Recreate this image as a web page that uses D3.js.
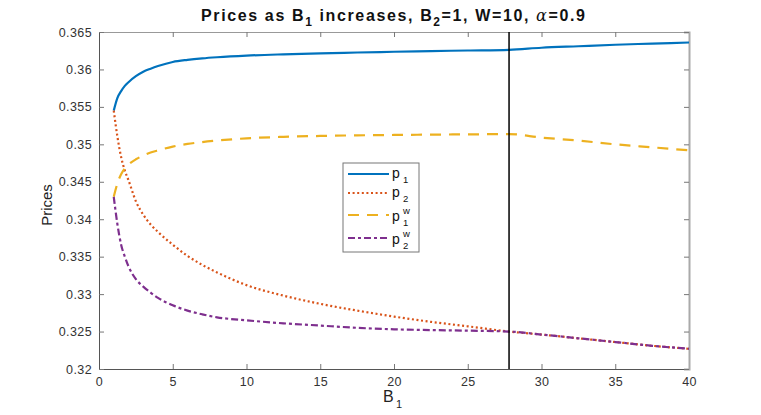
<!DOCTYPE html>
<html>
<head>
<meta charset="utf-8">
<script src="https://cdn.jsdelivr.net/npm/d3@7"></script>
<style>
  body { margin: 0; background: #fff; }
  text { font-family: "Liberation Sans", Arial, sans-serif; }
</style>
</head>
<body>
<svg width="761" height="415"></svg>
<script>
// values
var b1 = [1, 1.25, 1.5, 1.75, 2, 2.5, 3, 3.5, 4, 5, 6, 7, 8, 10, 12.5, 15, 17.5, 20, 22.5, 25, 27.8, 30, 32.5, 35, 37.5, 40];
var p1 = [0.3545, 0.3562, 0.3571, 0.3578, 0.3583, 0.3591, 0.3597, 0.3601, 0.36045, 0.3610, 0.36128, 0.36148, 0.36163, 0.36185, 0.36202, 0.36215, 0.36226, 0.36236, 0.36245, 0.36253, 0.36262, 0.3629, 0.3631, 0.3633, 0.36345, 0.3636];
var p2 = [0.3545, 0.3510, 0.3483, 0.3465, 0.3452, 0.3424, 0.3406, 0.3393, 0.3383, 0.3366, 0.3351, 0.3339, 0.3329, 0.3312, 0.3298, 0.3287, 0.3278, 0.3270, 0.3263, 0.3257, 0.3250, 0.3246, 0.3241, 0.3236, 0.3231, 0.3227];
var p1w = [0.3430, 0.3448, 0.3460, 0.3468, 0.3473, 0.3480, 0.3485, 0.3489, 0.3492, 0.3497, 0.35005, 0.3503, 0.3505, 0.3508, 0.3510, 0.35112, 0.3512, 0.35125, 0.3513, 0.35133, 0.35137, 0.3509, 0.3505, 0.3500, 0.3496, 0.3492];
var p2w = [0.3430, 0.3393, 0.3366, 0.3350, 0.3337, 0.3320, 0.3310, 0.3302, 0.3295, 0.3285, 0.3278, 0.3273, 0.3269, 0.3265, 0.3261, 0.3258, 0.3255, 0.3253, 0.3252, 0.32512, 0.3250, 0.3246, 0.3241, 0.3236, 0.3231, 0.3227];
var cutoff = 27.8;
var xTicks = [0, 5, 10, 15, 20, 25, 30, 35, 40];
var yTicks = [0.32, 0.325, 0.33, 0.335, 0.34, 0.345, 0.35, 0.355, 0.36, 0.365];

const svg = d3.select('svg');
const x = d3.scaleLinear().domain([0, 40]).range([99, 689]);
const y = d3.scaleLinear().domain([0.32, 0.365]).range([369, 32]);
const fmt = d => String(+d.toFixed(3));

// axes, MATLAB style: ticks pointing in, box on
svg.append('g').attr('transform', 'translate(0,369)')
  .call(d3.axisBottom(x).tickValues(xTicks).tickSize(-5).tickPadding(8).tickFormat(fmt))
  .call(g => g.select('.domain').attr('stroke', '#555'));
svg.append('g').attr('transform', 'translate(0,32)')
  .call(d3.axisTop(x).tickValues(xTicks).tickSize(-5).tickFormat(''))
  .call(g => g.select('.domain').attr('stroke', '#999'));
svg.append('g').attr('transform', 'translate(99,0)')
  .call(d3.axisLeft(y).tickValues(yTicks).tickSize(-5).tickPadding(7).tickFormat(fmt))
  .call(g => g.select('.domain').attr('stroke', '#555'));
svg.append('g').attr('transform', 'translate(689,0)')
  .call(d3.axisRight(y).tickValues(yTicks).tickSize(-5).tickFormat(''))
  .call(g => g.select('.domain').attr('stroke', '#aaa').attr('stroke-width', 2));
svg.selectAll('.tick line').attr('stroke', '#777');
svg.selectAll('.tick text').attr('font-size', 12.5).attr('letter-spacing', 0.4).attr('fill', '#333')
  .attr('font-family', '"Liberation Sans", Arial, sans-serif');

// series
var series = [
  { vals: p1, color: '#0072BD', dash: null },
  { vals: p2, color: '#D95319', dash: '2,2.6' },
  { vals: p1w, color: '#EDB120', dash: '11,8' },
  { vals: p2w, color: '#7E2F8E', dash: '7,3,3,3' }
];
const line = d3.line()
  .x((d, i) => x(b1[i]))
  .y(d => y(d))
  .curve(d3.curveMonotoneX);

svg.append('g').selectAll('path')
  .data(series)
  .join('path')
  .attr('fill', 'none')
  .attr('stroke', d => d.color)
  .attr('stroke-width', 2.2)
  .attr('stroke-dasharray', d => d.dash)
  .attr('d', d => line(d.vals));

svg.append('line')
  .attr('x1', x(cutoff)).attr('x2', x(cutoff))
  .attr('y1', y(0.365)).attr('y2', y(0.32))
  .attr('stroke', '#000').attr('stroke-width', 1.5);

// title
var title = svg.append('text')
  .attr('x', 201).attr('y', 21)
  .attr('textLength', 384).attr('lengthAdjust', 'spacing')
  .attr('font-size', 16).attr('font-weight', 'bold').attr('fill', '#111');
title.append('tspan').text('Prices as B');
title.append('tspan').attr('dy', 5).attr('font-size', 12).text('1');
title.append('tspan').attr('dy', -5).text(' increases, B');
title.append('tspan').attr('dy', 5).attr('font-size', 12).text('2');
title.append('tspan').attr('dy', -5).text('=1, W=10, ');
title.append('tspan').attr('font-family', '"DejaVu Serif", serif').attr('font-style', 'italic')
  .attr('font-weight', 'normal').text('α');
title.append('tspan').text('=0.9');

// axis labels
svg.append('text')
  .attr('transform', 'translate(52,205) rotate(-90)')
  .attr('text-anchor', 'middle')
  .attr('font-size', 15).attr('fill', '#222')
  .text('Prices');

svg.append('text')
  .attr('x', 383).attr('y', 402)
  .attr('font-size', 16).attr('fill', '#222')
  .text('B');
svg.append('text')
  .attr('x', 396).attr('y', 408)
  .attr('font-size', 11).attr('fill', '#222')
  .text('1');

// legend
var legend = svg.append('g');
legend.append('rect')
  .attr('x', 343).attr('y', 163).attr('width', 76).attr('height', 89)
  .attr('fill', '#fff').attr('stroke', '#777').attr('stroke-width', 1);
var rows = [
  { y: 174, sub: '1', sup: null },
  { y: 193, sub: '2', sup: null },
  { y: 215, sub: '1', sup: 'w' },
  { y: 238, sub: '2', sup: 'w' }
];
rows.forEach(function (r, i) {
  legend.append('line')
    .attr('x1', 348).attr('x2', 389).attr('y1', r.y).attr('y2', r.y)
    .attr('stroke', series[i].color).attr('stroke-width', 2.2)
    .attr('stroke-dasharray', series[i].dash);
  var base = r.sup ? r.y + 6 : r.y + 4;
  legend.append('text').attr('x', 392).attr('y', base)
    .attr('font-size', 14).attr('fill', '#111').text('p');
  legend.append('text').attr('x', 403).attr('y', base + 5)
    .attr('font-size', 9.5).attr('fill', '#111').text(r.sub);
  if (r.sup) {
    legend.append('text').attr('x', 403).attr('y', r.y - 1)
      .attr('font-size', 9.5).attr('fill', '#111').text(r.sup);
  }
});
</script>
</body>
</html>
